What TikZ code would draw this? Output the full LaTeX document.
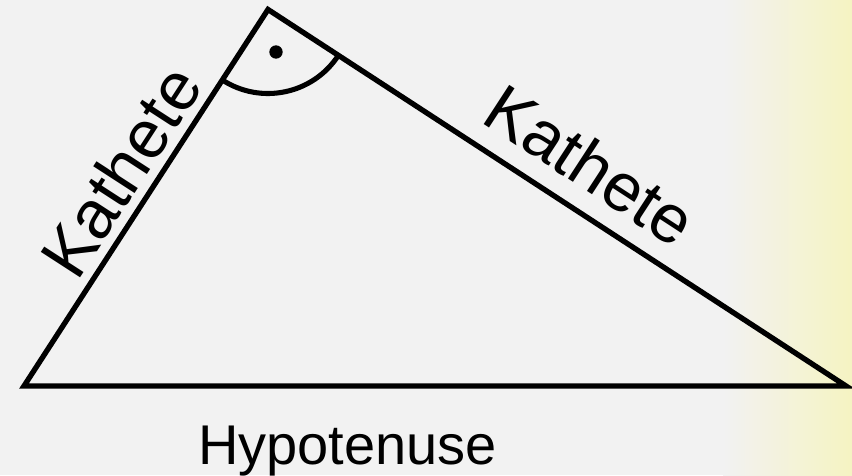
\documentclass[tikz,border=0pt]{standalone}
\usepackage{fontspec}
\setmainfont{Liberation Sans}
\usetikzlibrary{calc}
\definecolor{bgG}{RGB}{242,242,242}
\definecolor{bgY}{RGB}{245,243,194}
\tikzset{
  side/.style={line width=4pt,line join=miter,draw=black},
  rightangle/.style={line width=3.8pt,draw=black},
  rightdot/.style={circle,fill=black,inner sep=0pt,minimum size=10pt},
  sidelabel/.style={inner sep=0pt,anchor=base west,font=\fontsize{51}{60}\selectfont},
  hyplabel/.style={sidelabel,font=\fontsize{42}{50}\selectfont}
}
\begin{document}
\begin{tikzpicture}[x=0.75pt,y=0.75pt]
  % background
  \fill[bgG] (0,0) rectangle (852,475);
  \shade[left color=bgG,right color=bgY] (723,0) rectangle (852,475);
  \useasboundingbox (0,0) rectangle (852,475);
  % vertices
  \coordinate (A) at (24,89);
  \coordinate (C) at (268,465.5);
  \coordinate (B) at (846,89);
  \draw[side] (A) -- (C) -- (B) -- cycle;
  % right angle mark
  \draw[rightangle] ($(C)+(237.05:84)$) arc[start angle=237.05,end angle=326.92,radius=84];
  \node[rightdot] (dot) at (276,423) {};
  % labels
  \node[sidelabel,rotate=57.05] (kathL) at (77,192) {Kathete};
  \node[sidelabel,rotate=-33.08] (kathR) at (478.8,354) {Kathete};
  \node[hyplabel] (hyp) at (198,11) {Hypotenuse};
\end{tikzpicture}
\end{document}
